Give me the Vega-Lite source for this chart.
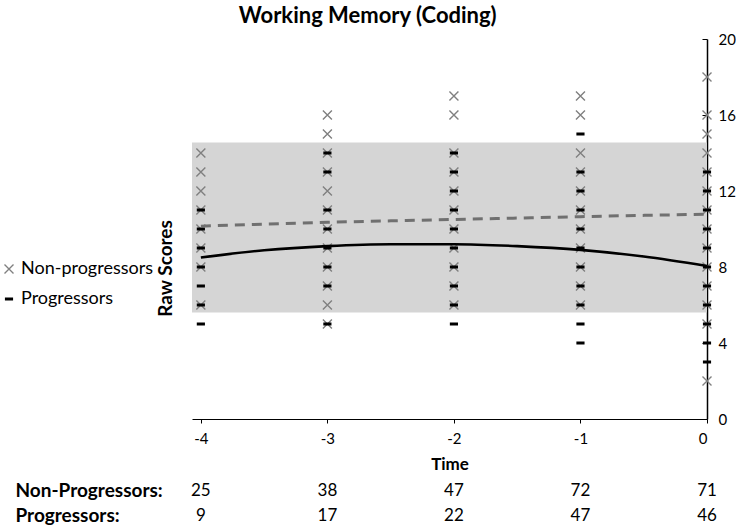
{
  "$schema": "https://vega.github.io/schema/vega-lite/v6.json",
  "padding": {"left": 0, "top": 5, "right": 0, "bottom": 0},
  "title": {"text": "Working Memory (Coding)", "font": "Lato", "fontSize": 22, "fontWeight": "bold", "anchor": "middle", "color": "black", "offset": 4},
  "config": {"font": "Lato", "view": {"stroke": null}},
  "spacing": 9,
  "vconcat": [
    {
      "width": 515,
      "height": 380,
      "layer": [
        {
          "data": {"values": [{"lo": 5.6, "hi": 14.55}]},
          "mark": {"type": "rect", "color": "#d5d5d5"},
          "encoding": {
            "y": {"field": "lo", "type": "quantitative", "scale": {"domain": [0, 20], "nice": false}},
            "y2": {"field": "hi"}
          }
        },
        {
          "data": {"values": [
            {"time": -4, "score": 14, "group": "Non-progressors"},
            {"time": -4, "score": 13, "group": "Non-progressors"},
            {"time": -4, "score": 12, "group": "Non-progressors"},
            {"time": -4, "score": 11, "group": "Non-progressors"},
            {"time": -4, "score": 10, "group": "Non-progressors"},
            {"time": -4, "score": 9, "group": "Non-progressors"},
            {"time": -4, "score": 8, "group": "Non-progressors"},
            {"time": -4, "score": 6, "group": "Non-progressors"},
            {"time": -3, "score": 16, "group": "Non-progressors"},
            {"time": -3, "score": 15, "group": "Non-progressors"},
            {"time": -3, "score": 14, "group": "Non-progressors"},
            {"time": -3, "score": 13, "group": "Non-progressors"},
            {"time": -3, "score": 12, "group": "Non-progressors"},
            {"time": -3, "score": 11, "group": "Non-progressors"},
            {"time": -3, "score": 10, "group": "Non-progressors"},
            {"time": -3, "score": 9, "group": "Non-progressors"},
            {"time": -3, "score": 8, "group": "Non-progressors"},
            {"time": -3, "score": 7, "group": "Non-progressors"},
            {"time": -3, "score": 6, "group": "Non-progressors"},
            {"time": -3, "score": 5, "group": "Non-progressors"},
            {"time": -2, "score": 17, "group": "Non-progressors"},
            {"time": -2, "score": 16, "group": "Non-progressors"},
            {"time": -2, "score": 14, "group": "Non-progressors"},
            {"time": -2, "score": 13, "group": "Non-progressors"},
            {"time": -2, "score": 12, "group": "Non-progressors"},
            {"time": -2, "score": 11, "group": "Non-progressors"},
            {"time": -2, "score": 10, "group": "Non-progressors"},
            {"time": -2, "score": 9, "group": "Non-progressors"},
            {"time": -2, "score": 8, "group": "Non-progressors"},
            {"time": -2, "score": 7, "group": "Non-progressors"},
            {"time": -2, "score": 6, "group": "Non-progressors"},
            {"time": -1, "score": 17, "group": "Non-progressors"},
            {"time": -1, "score": 16, "group": "Non-progressors"},
            {"time": -1, "score": 14, "group": "Non-progressors"},
            {"time": -1, "score": 13, "group": "Non-progressors"},
            {"time": -1, "score": 12, "group": "Non-progressors"},
            {"time": -1, "score": 11, "group": "Non-progressors"},
            {"time": -1, "score": 10, "group": "Non-progressors"},
            {"time": -1, "score": 9, "group": "Non-progressors"},
            {"time": -1, "score": 8, "group": "Non-progressors"},
            {"time": -1, "score": 7, "group": "Non-progressors"},
            {"time": -1, "score": 6, "group": "Non-progressors"},
            {"time": 0, "score": 18, "group": "Non-progressors"},
            {"time": 0, "score": 16, "group": "Non-progressors"},
            {"time": 0, "score": 15, "group": "Non-progressors"},
            {"time": 0, "score": 14, "group": "Non-progressors"},
            {"time": 0, "score": 13, "group": "Non-progressors"},
            {"time": 0, "score": 12, "group": "Non-progressors"},
            {"time": 0, "score": 11, "group": "Non-progressors"},
            {"time": 0, "score": 10, "group": "Non-progressors"},
            {"time": 0, "score": 9, "group": "Non-progressors"},
            {"time": 0, "score": 8, "group": "Non-progressors"},
            {"time": 0, "score": 7, "group": "Non-progressors"},
            {"time": 0, "score": 6, "group": "Non-progressors"},
            {"time": 0, "score": 5, "group": "Non-progressors"},
            {"time": 0, "score": 2, "group": "Non-progressors"},
            {"time": -4, "score": 11, "group": "Progressors"},
            {"time": -4, "score": 10, "group": "Progressors"},
            {"time": -4, "score": 9, "group": "Progressors"},
            {"time": -4, "score": 8, "group": "Progressors"},
            {"time": -4, "score": 7, "group": "Progressors"},
            {"time": -4, "score": 6, "group": "Progressors"},
            {"time": -4, "score": 5, "group": "Progressors"},
            {"time": -3, "score": 14, "group": "Progressors"},
            {"time": -3, "score": 13, "group": "Progressors"},
            {"time": -3, "score": 11, "group": "Progressors"},
            {"time": -3, "score": 10, "group": "Progressors"},
            {"time": -3, "score": 9, "group": "Progressors"},
            {"time": -3, "score": 8, "group": "Progressors"},
            {"time": -3, "score": 7, "group": "Progressors"},
            {"time": -3, "score": 5, "group": "Progressors"},
            {"time": -2, "score": 14, "group": "Progressors"},
            {"time": -2, "score": 13, "group": "Progressors"},
            {"time": -2, "score": 12, "group": "Progressors"},
            {"time": -2, "score": 11, "group": "Progressors"},
            {"time": -2, "score": 10, "group": "Progressors"},
            {"time": -2, "score": 9, "group": "Progressors"},
            {"time": -2, "score": 8, "group": "Progressors"},
            {"time": -2, "score": 7, "group": "Progressors"},
            {"time": -2, "score": 6, "group": "Progressors"},
            {"time": -2, "score": 5, "group": "Progressors"},
            {"time": -1, "score": 15, "group": "Progressors"},
            {"time": -1, "score": 13, "group": "Progressors"},
            {"time": -1, "score": 12, "group": "Progressors"},
            {"time": -1, "score": 11, "group": "Progressors"},
            {"time": -1, "score": 10, "group": "Progressors"},
            {"time": -1, "score": 9, "group": "Progressors"},
            {"time": -1, "score": 8, "group": "Progressors"},
            {"time": -1, "score": 7, "group": "Progressors"},
            {"time": -1, "score": 6, "group": "Progressors"},
            {"time": -1, "score": 5, "group": "Progressors"},
            {"time": -1, "score": 4, "group": "Progressors"},
            {"time": 0, "score": 13, "group": "Progressors"},
            {"time": 0, "score": 12, "group": "Progressors"},
            {"time": 0, "score": 11, "group": "Progressors"},
            {"time": 0, "score": 10, "group": "Progressors"},
            {"time": 0, "score": 9, "group": "Progressors"},
            {"time": 0, "score": 8, "group": "Progressors"},
            {"time": 0, "score": 7, "group": "Progressors"},
            {"time": 0, "score": 6, "group": "Progressors"},
            {"time": 0, "score": 5, "group": "Progressors"},
            {"time": 0, "score": 4, "group": "Progressors"},
            {"time": 0, "score": 3, "group": "Progressors"}
          ]},
          "mark": {"type": "point", "filled": true, "size": 81, "strokeWidth": 1.4, "opacity": 1, "clip": false},
          "encoding": {
            "x": {"field": "time", "type": "quantitative", "scale": {"domain": [-4.07, 0], "nice": false, "zero": false},
              "axis": {"values": [-4, -3, -2, -1, 0], "labelExpr": "datum.value + ''", "title": "Time", "grid": false, "domainColor": "black", "tickColor": "black", "tickSize": 4, "labelFontSize": 15, "labelPadding": 8, "labelColor": "black", "titleFontSize": 17, "titleFontWeight": "bold", "titleColor": "black", "titlePadding": 10}},
            "y": {"field": "score", "type": "quantitative", "scale": {"domain": [0, 20], "nice": false},
              "axis": {"orient": "right", "values": [0, 2, 4, 6, 8, 10, 12, 14, 16, 18, 20], "grid": false, "title": "Raw Scores", "titleX": -542, "titleY": 229, "titleAngle": -90, "titleAlign": "center", "titleBaseline": "middle", "titleFontSize": 19, "titleFontWeight": "bold", "titleColor": "black", "domainColor": "black", "domainWidth": 1.5, "tickColor": "black", "tickSize": -5, "labelFontSize": 15, "labelColor": "black", "labelPadding": 16}},
            "shape": {"field": "group", "type": "nominal", "scale": {"domain": ["Non-progressors", "Progressors"], "range": ["M-1,-1L1,1M-1,1L1,-1", "M-0.75,-0.17L0.75,-0.17L0.75,0.17L-0.75,0.17Z"]},
              "legend": {"orient": "none", "legendX": -192, "legendY": 221, "title": null, "labelFontSize": 18, "labelColor": "black", "symbolSize": 81, "symbolStrokeWidth": 1.4, "rowPadding": 12, "labelOffset": 3}},
            "fill": {"field": "group", "type": "nominal", "scale": {"domain": ["Non-progressors", "Progressors"], "range": ["#808080", "#000000"]}},
            "stroke": {"field": "group", "type": "nominal", "scale": {"domain": ["Non-progressors", "Progressors"], "range": ["#808080", "#000000"]}}
          }
        },
        {
          "data": {"values": [
            {"time": -4, "score": 10.15},
            {"time": -3, "score": 10.35},
            {"time": -2, "score": 10.5},
            {"time": -1, "score": 10.65},
            {"time": 0, "score": 10.78}
          ]},
          "mark": {"type": "line", "color": "#707070", "strokeWidth": 3, "strokeDash": [10, 7], "interpolate": "monotone"},
          "encoding": {
            "x": {"field": "time", "type": "quantitative"},
            "y": {"field": "score", "type": "quantitative"}
          }
        },
        {
          "data": {"values": [
            {"time": -4, "score": 8.5},
            {"time": -3.5, "score": 8.88},
            {"time": -3, "score": 9.1},
            {"time": -2.5, "score": 9.2},
            {"time": -2, "score": 9.2},
            {"time": -1.5, "score": 9.1},
            {"time": -1, "score": 8.9},
            {"time": -0.5, "score": 8.55},
            {"time": 0, "score": 8.05}
          ]},
          "mark": {"type": "line", "color": "#000000", "strokeWidth": 2.6, "interpolate": "monotone"},
          "encoding": {
            "x": {"field": "time", "type": "quantitative"},
            "y": {"field": "score", "type": "quantitative"}
          }
        }
      ]
    },
    {
      "width": 515,
      "height": 40,
      "data": {"values": [
        {"time": -4, "row": "Non-Progressors:", "n": 25},
        {"time": -3, "row": "Non-Progressors:", "n": 38},
        {"time": -2, "row": "Non-Progressors:", "n": 47},
        {"time": -1, "row": "Non-Progressors:", "n": 72},
        {"time": 0, "row": "Non-Progressors:", "n": 71},
        {"time": -4, "row": "Progressors:", "n": 9},
        {"time": -3, "row": "Progressors:", "n": 17},
        {"time": -2, "row": "Progressors:", "n": 22},
        {"time": -1, "row": "Progressors:", "n": 47},
        {"time": 0, "row": "Progressors:", "n": 46}
      ]},
      "mark": {"type": "text", "fontSize": 17, "color": "black"},
      "encoding": {
        "x": {"field": "time", "type": "quantitative", "scale": {"domain": [-4.07, 0], "nice": false, "zero": false}, "axis": null},
        "y": {"field": "row", "type": "nominal", "sort": ["Non-Progressors:", "Progressors:"], "scale": {"padding": 0.3},
          "axis": {"title": null, "domain": false, "ticks": false, "labelAlign": "left", "labelPadding": 177, "labelFontSize": 19, "labelFontWeight": "bold", "labelColor": "black"}},
        "text": {"field": "n", "type": "quantitative"}
      }
    }
  ]
}
